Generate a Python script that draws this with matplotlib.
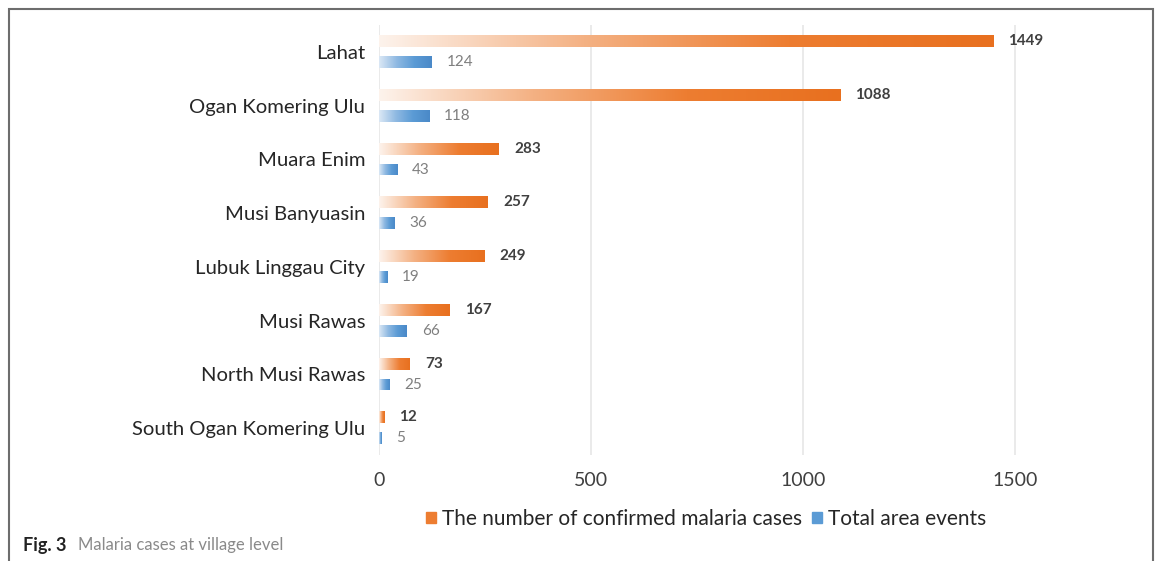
import numpy as np
import matplotlib
matplotlib.use('Agg')
import matplotlib.pyplot as plt
from matplotlib.colors import LinearSegmentedColormap
from matplotlib.patches import Rectangle

# data
districts = ['Lahat', 'Ogan Komering Ulu', 'Muara Enim', 'Musi Banyuasin',
             'Lubuk Linggau City', 'Musi Rawas', 'North Musi Rawas',
             'South Ogan Komering Ulu']
confirmed = [1449, 1088, 283, 257, 249, 167, 73, 12]
area_events = [124, 118, 43, 36, 19, 66, 25, 5]
xticks = [0, 500, 1000, 1500]
series_names = ['The number of confirmed malaria cases', 'Total area events']

orange = '#ed7d31'
blue = '#5b9bd5'
orange_cmap = LinearSegmentedColormap.from_list('og', ['#fdf3ec', '#f4b183', orange, '#e8701f'])
blue_cmap = LinearSegmentedColormap.from_list('bl', ['#dbe8f5', '#8fb9e2', blue, '#4a89c8'])

plt.rcParams['font.family'] = ['Lato', 'DejaVu Sans']

fig = plt.figure(figsize=(11.56, 5.61), dpi=100)
ax = fig.add_axes([0.328, 0.189, 0.5865, 0.7665])

y = np.arange(len(districts))
h = 0.22
bars_o = ax.barh(y - 0.2, confirmed, height=h, color='none', edgecolor='none')
bars_b = ax.barh(y + 0.19, area_events, height=h, color='none', edgecolor='none')

# gradient fill, light on the left
grad = np.linspace(0, 1, 256).reshape(1, -1)
for bars, cmap in [(bars_o, orange_cmap), (bars_b, blue_cmap)]:
    for p in bars:
        x0, y0 = p.get_x(), p.get_y()
        w, hh = p.get_width(), p.get_height()
        im = ax.imshow(grad, cmap=cmap, aspect='auto', extent=(x0, x0 + w, y0 + hh, y0),
                       interpolation='bilinear', zorder=3)
        im.set_clip_path(p)

for yi, v in zip(y, confirmed):
    ax.text(v + 35, yi - 0.2, str(v), va='center', ha='left', fontsize=11,
            fontweight='bold', color='#404040')
for yi, v in zip(y, area_events):
    ax.text(v + 35, yi + 0.19, str(v), va='center', ha='left', fontsize=11,
            color='#7f7f7f')

ax.set_xlim(0, 1600)
ax.set_ylim(len(districts) - 0.5, -0.5)
ax.set_xticks(xticks)
ax.set_xticklabels([str(t) for t in xticks], fontsize=14, color='#404040')
ax.set_yticks(y)
ax.set_yticklabels(districts, fontsize=14.6, color='#262626')
ax.tick_params(axis='both', length=0)
ax.tick_params(axis='x', pad=12)
ax.tick_params(axis='y', pad=10)
ax.grid(axis='x', color='#e6e6e6', linewidth=1.2)
ax.set_axisbelow(True)
for s in ['top', 'right', 'bottom', 'left']:
    ax.spines[s].set_visible(False)

handles = [Rectangle((0, 0), 1, 1, color=orange), Rectangle((0, 0), 1, 1, color=blue)]
fig.legend(handles, series_names, loc='center', bbox_to_anchor=(0.611, 0.075),
           ncol=2, frameon=False, fontsize=15, handlelength=0.45, handleheight=0.45,
           columnspacing=0.5, handletextpad=0.3, labelcolor='#262626')

# outer frame
fig.patches.append(Rectangle((9 / 1156, -0.05), 1144 / 1156, 1.05 - 9 / 561,
                             transform=fig.transFigure, fill=False,
                             edgecolor='#6d6d6d', linewidth=1.5))

fig.text(23 / 1156, 1 - 545 / 561, 'Fig. 3', fontsize=13, fontweight='bold',
         color='#222222', va='center', ha='left')
fig.text(78 / 1156, 1 - 545 / 561, 'Malaria cases at village level', fontsize=12,
         color='#8a8a8a', va='center', ha='left')

fig.savefig('out.png', dpi=100)
